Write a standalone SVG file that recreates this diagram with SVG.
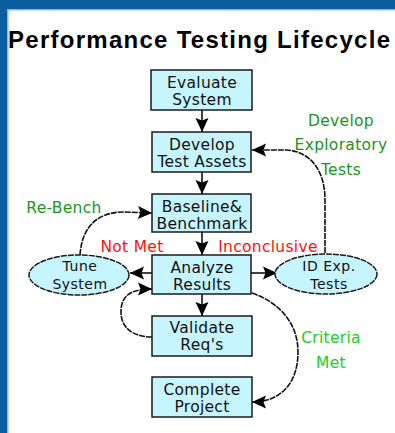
<svg xmlns="http://www.w3.org/2000/svg" width="395" height="433" viewBox="0 0 395 433">
<style>
.box{fill:#c6f5ff;stroke:#1a1a1a;stroke-width:1.5}
.ell{fill:#c6f5ff;stroke:#1a1a1a;stroke-width:1.5;stroke-dasharray:6 1}
.t{font-family:"DejaVu Sans",sans-serif;font-size:15.5px;letter-spacing:0.3px;text-anchor:middle;fill:#111}
.s{font-size:14px;letter-spacing:0.5px}
.g{fill:#1a951a}
.lg{fill:#22cc22}
.r{fill:#ff1010}
.c{fill:none;stroke:#111;stroke-width:1.6}
.d{stroke-dasharray:6 1}
</style>
<defs>
<marker id="ah" markerUnits="userSpaceOnUse" markerWidth="16" markerHeight="16" viewBox="0 0 16 16" refX="15" refY="8" orient="auto">
<path d="M1,1.5 L15,8 L1,14.5 L3.5,8 z" fill="#000"/>
</marker>
</defs>
<rect x="0" y="0" width="395" height="433" fill="#fff"/>
<rect x="0" y="0" width="395" height="9" fill="#0b5e9e"/>
<rect x="0" y="9" width="395" height="1.5" fill="#8ab8dc"/>
<rect x="0" y="0" width="7" height="433" fill="#0b5e9e"/>
<rect x="7" y="9" width="1.5" height="424" fill="#8ab8dc"/>
<text x="8" y="48" font-family="Liberation Sans,Arial,sans-serif" font-weight="bold" font-size="24" textLength="382" lengthAdjust="spacing" fill="#000">Performance Testing Lifecycle</text>

<g id="connectors">
<line class="c" x1="202" y1="110" x2="202" y2="132" marker-end="url(#ah)"/>
<line class="c" x1="202" y1="172" x2="202" y2="194" marker-end="url(#ah)"/>
<line class="c" x1="202" y1="232" x2="202" y2="255" marker-end="url(#ah)"/>
<line class="c" x1="202" y1="294" x2="202" y2="316" marker-end="url(#ah)"/>
<line class="c" x1="152" y1="273" x2="130" y2="273" marker-end="url(#ah)"/>
<line class="c" x1="251" y1="273" x2="277" y2="273" marker-end="url(#ah)"/>
<path class="c d" d="M80 255 C82 226 98 212 124 212 L152 213" marker-end="url(#ah)"/>
<path class="c d" d="M325 253 L325 200 C325 170 310 151 286 150 L252 150" marker-end="url(#ah)"/>
<path class="c d" d="M152 337 C132 337 121 327 121 312 C121 296 130 289 152 289" marker-end="url(#ah)"/>
<path class="c d" d="M252 293 C278 302 298 322 298 352 C298 384 280 402 252 402" marker-end="url(#ah)"/>
</g>

<g id="evaluate"><rect class="box" x="151" y="70" width="101" height="40"/><text class="t" x="202" y="88">Evaluate</text><text class="t" x="202" y="105">System</text></g>
<g id="develop"><rect class="box" x="152" y="132" width="99" height="40"/><text class="t" x="202" y="150">Develop</text><text class="t" x="202" y="167">Test Assets</text></g>
<g id="baseline"><rect class="box" x="152" y="194" width="99" height="38"/><text class="t" x="202" y="212">Baseline&amp;</text><text class="t" x="202" y="229">Benchmark</text></g>
<g id="analyze"><rect class="box" x="152" y="255" width="99" height="39"/><text class="t" x="202" y="273">Analyze</text><text class="t" x="202" y="290">Results</text></g>
<g id="validate"><rect class="box" x="152" y="316" width="100" height="40"/><text class="t" x="202" y="333">Validate</text><text class="t" x="202" y="350">Req's</text></g>
<g id="complete"><rect class="box" x="152" y="377" width="100" height="40"/><text class="t" x="202" y="395">Complete</text><text class="t" x="202" y="412">Project</text></g>
<g id="tune"><ellipse class="ell" cx="79" cy="275" rx="50" ry="20"/><text class="t s" x="80" y="271">Tune</text><text class="t s" x="80" y="289">System</text></g>
<g id="idexp"><ellipse class="ell" cx="326" cy="274" rx="51" ry="20"/><text class="t s" x="329" y="271">ID Exp.</text><text class="t s" x="329" y="289">Tests</text></g>

<g id="labels">
<text class="t g" x="341" y="126">Develop</text>
<text class="t g" x="341" y="150">Exploratory</text>
<text class="t g" x="341" y="175">Tests</text>
<text class="t g" x="64" y="213">Re-Bench</text>
<text class="t r" x="132" y="252">Not Met</text>
<text class="t r" x="268" y="252">Inconclusive</text>
<text class="t lg" x="331" y="343">Criteria</text>
<text class="t lg" x="331" y="368">Met</text>
</g>
</svg>
